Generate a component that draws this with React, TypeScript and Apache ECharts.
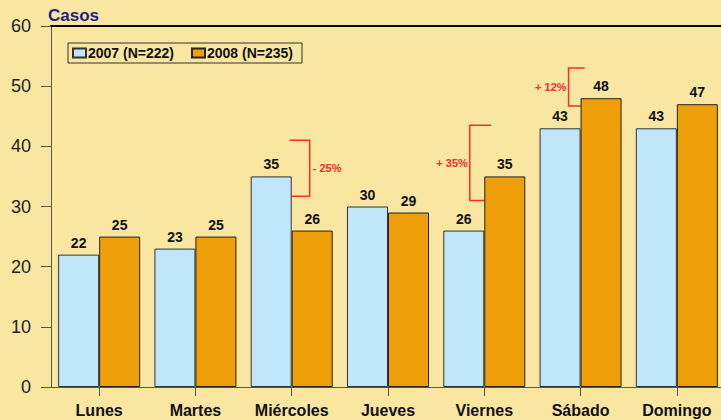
import React, { useEffect, useRef } from "react";
import * as echarts from "echarts";

const days = ["Lunes", "Martes", "Miércoles", "Jueves", "Viernes", "Sábado", "Domingo"];
const cases2007 = [22, 23, 35, 30, 26, 43, 43];
const cases2008 = [25, 25, 26, 29, 35, 48, 47];
const seriesNames = ["2007 (N=222)", "2008 (N=235)"];
const yTicks = { min: 0, max: 60, interval: 10 };

// annotations: category index, bracket top value, bracket bottom value, text
const annotCats = [2, 4, 5];
const annotTop = [41, 43.5, 53];
const annotBottom = [31.7, 31, 46.7];
const annotText = ["- 25%", "+ 35%", "+ 12%"];
// layout of each bracket relative to category centre (px)
const annotLayout = [
  { lineDx: 18, armDx: -2, side: "right" },
  { lineDx: -14.5, armDx: 7, side: "left" },
  { lineDx: -12, armDx: 4, side: "left" },
];

const BG = "#F9E6A0";
const BLUE = "#BFE6FB";
const ORANGE = "#EF9F0A";
const RED = "#FF2A2A";
const FONT = "'Liberation Sans', Arial, sans-serif";

export default function App() {
  const ref = useRef<HTMLDivElement>(null);
  useEffect(() => {
    document.body.style.margin = "0";
    const chart = echarts.init(ref.current!, null, { renderer: "svg" });
    const labelStyle = {
      show: true,
      position: "top" as const,
      distance: 5,
      fontFamily: FONT,
      fontWeight: "bold" as const,
      fontSize: 14,
      color: "#111",
    };
    chart.setOption({
      animation: false,
      backgroundColor: BG,
      textStyle: { fontFamily: FONT },
      title: {
        text: "Casos",
        left: 48,
        top: 7,
        padding: 0,
        textStyle: { fontFamily: FONT, fontWeight: "bold", fontSize: 17, color: "#1E1E8C" },
      },
      legend: {
        data: seriesNames,
        left: 68,
        top: 43,
        orient: "horizontal",
        borderColor: "#333",
        borderWidth: 1,
        padding: [3, 9, 3, 4],
        itemWidth: 13,
        itemHeight: 9,
        itemGap: 17,
        icon: "rect",
        textStyle: { fontFamily: FONT, fontWeight: "bold", fontSize: 14, color: "#111", padding: [0, 0, 0, -3] },
      },
      grid: { left: 51, top: 26, width: 674, height: 361, containLabel: false },
      xAxis: [
        {
          type: "category",
          data: days,
          position: "bottom",
          axisLine: { show: true, lineStyle: { color: "#555", width: 1 } },
          axisTick: { show: true, alignWithLabel: true, length: 9, lineStyle: { color: "#555" } },
          axisLabel: { fontFamily: FONT, fontWeight: "bold", fontSize: 16, color: "#111", margin: 15, interval: 0 },
        },
        {
          type: "category",
          data: days,
          position: "top",
          axisLine: { show: true, lineStyle: { color: "#000", width: 2 } },
          axisTick: { show: false },
          axisLabel: { show: false },
        },
      ],
      yAxis: {
        type: "value",
        min: yTicks.min,
        max: yTicks.max,
        interval: yTicks.interval,
        axisLine: { show: true, lineStyle: { color: "#555", width: 1 } },
        axisTick: { show: true, length: 10, lineStyle: { color: "#555" } },
        splitLine: { show: false },
        axisLabel: { fontFamily: FONT, fontSize: 18, color: "#222", margin: 20 },
      },
      series: [
        {
          name: seriesNames[0],
          type: "bar",
          data: cases2007,
          barWidth: 41,
          barGap: "0%",
          itemStyle: { color: BLUE, borderColor: "#333", borderWidth: 1 },
          label: labelStyle,
        },
        {
          name: seriesNames[1],
          type: "bar",
          data: cases2008,
          barWidth: 41,
          barGap: "0%",
          itemStyle: { color: ORANGE, borderColor: "#222", borderWidth: 1 },
          label: labelStyle,
        },
        {
          name: "annot",
          type: "custom",
          clip: false,
          silent: true,
          data: annotCats.map((c, i) => [c, annotTop[i], annotBottom[i], i]),
          renderItem: (params: any, api: any) => {
            const cat = api.value(0);
            const idx = api.value(3);
            const lay = annotLayout[idx];
            const pTop = api.coord([cat, api.value(1)]);
            const pBot = api.coord([cat, api.value(2)]);
            const cx = pTop[0];
            const lx = cx + lay.lineDx;
            const ax = cx + lay.armDx;
            const midY = (pTop[1] + pBot[1]) / 2;
            return {
              type: "group",
              children: [
                {
                  type: "polyline",
                  shape: { points: [[ax, pTop[1]], [lx, pTop[1]], [lx, pBot[1]], [ax, pBot[1]]] },
                  style: { stroke: RED, lineWidth: 1.5, fill: "none" },
                },
                {
                  type: "text",
                  x: lay.side === "right" ? lx + 3 : lx - 2,
                  y: midY,
                  style: {
                    text: annotText[idx],
                    fill: RED,
                    font: `bold 11px ${FONT}`,
                    align: lay.side === "right" ? "left" : "right",
                    verticalAlign: "middle",
                  },
                },
              ],
            };
          },
        },
      ],
    });
    return () => chart.dispose();
  }, []);
  return (
    <div style={{ position: "fixed", left: 0, top: 0, width: 721, height: 420, overflow: "hidden" }}>
      <div ref={ref} style={{ width: 726, height: 420 }} />
    </div>
  );
}
